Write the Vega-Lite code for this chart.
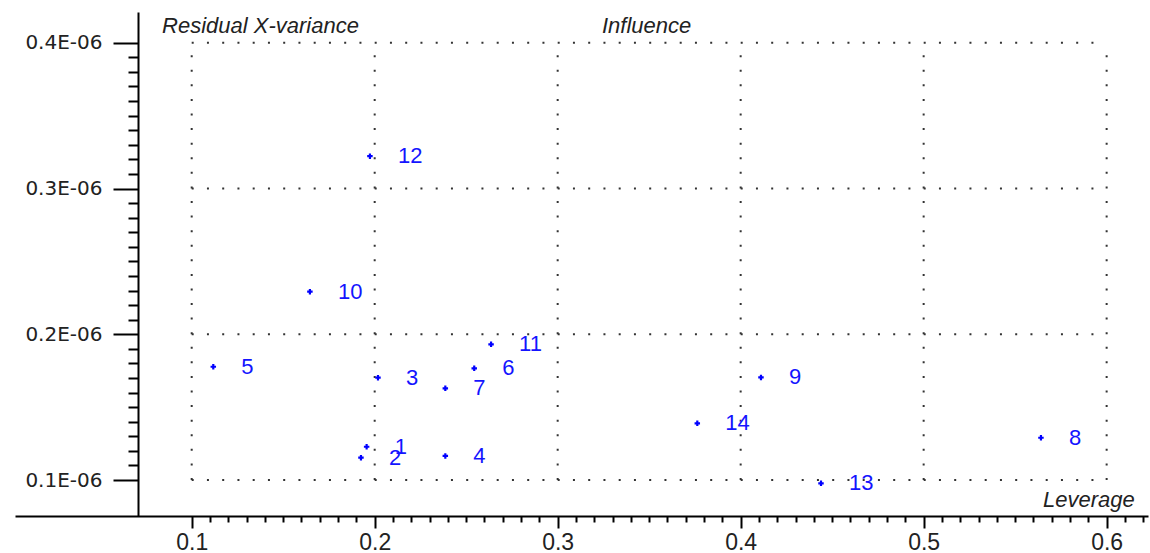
{
  "$schema": "https://vega.github.io/schema/vega-lite/v6.json",
  "width": 1133,
  "height": 504,
  "autosize": {"type": "none"},
  "padding": {"left": 15, "top": 12, "right": 2, "bottom": 37},
  "background": "#ffffff",
  "config": {"view": {"stroke": null}, "font": "Liberation Sans"},
  "datasets": {
    "samples": [
      {"sample": "1", "leverage": 0.1956, "residual": 1.228e-7},
      {"sample": "2", "leverage": 0.1925, "residual": 1.153e-7},
      {"sample": "3", "leverage": 0.2018, "residual": 1.702e-7},
      {"sample": "4", "leverage": 0.2386, "residual": 1.165e-7},
      {"sample": "5", "leverage": 0.1118, "residual": 1.777e-7},
      {"sample": "6", "leverage": 0.2544, "residual": 1.766e-7},
      {"sample": "7", "leverage": 0.2386, "residual": 1.629e-7},
      {"sample": "8", "leverage": 0.5641, "residual": 1.290e-7},
      {"sample": "9", "leverage": 0.4111, "residual": 1.704e-7},
      {"sample": "10", "leverage": 0.1646, "residual": 2.292e-7},
      {"sample": "11", "leverage": 0.2636, "residual": 1.931e-7},
      {"sample": "12", "leverage": 0.1974, "residual": 3.222e-7},
      {"sample": "13", "leverage": 0.4439, "residual": 0.977e-7},
      {"sample": "14", "leverage": 0.3763, "residual": 1.389e-7}
    ],
    "grid_v": [
      {"leverage": 0.1, "residual": 1e-7, "residual_end": 4e-7},
      {"leverage": 0.2, "residual": 1e-7, "residual_end": 4e-7},
      {"leverage": 0.3, "residual": 1e-7, "residual_end": 4e-7},
      {"leverage": 0.4, "residual": 1e-7, "residual_end": 4e-7},
      {"leverage": 0.5, "residual": 1e-7, "residual_end": 4e-7},
      {"leverage": 0.6, "residual": 1e-7, "residual_end": 4e-7}
    ],
    "grid_h": [
      {"residual": 1e-7, "leverage": 0.1, "leverage_end": 0.6},
      {"residual": 2e-7, "leverage": 0.1, "leverage_end": 0.6},
      {"residual": 3e-7, "leverage": 0.1, "leverage_end": 0.6},
      {"residual": 4e-7, "leverage": 0.1, "leverage_end": 0.6}
    ],
    "annotations": [
      {"label": "Residual X-variance", "leverage": 0.0838, "residual": 4.118e-7},
      {"label": "Influence", "leverage": 0.3242, "residual": 4.118e-7},
      {"label": "Leverage", "leverage": 0.5652, "residual": 0.866e-7}
    ]
  },
  "encoding": {
    "x": {
      "field": "leverage",
      "type": "quantitative",
      "scale": {"domain": [0.00344, 0.6226], "nice": false, "zero": false},
      "axis": {
        "title": null,
        "grid": false,
        "values": [0.1,0.11,0.12,0.13,0.14,0.15,0.16,0.17,0.18,0.19,0.2,0.21,0.22,0.23,0.24,0.25,0.26,0.27,0.28,0.29,0.3,0.31,0.32,0.33,0.34,0.35,0.36,0.37,0.38,0.39,0.4,0.41,0.42,0.43,0.44,0.45,0.46,0.47,0.48,0.49,0.5,0.51,0.52,0.53,0.54,0.55,0.56,0.57,0.58,0.59,0.6,0.61,0.62],
        "labelExpr": "abs(datum.value*10 - round(datum.value*10)) < 0.001 ? format(datum.value, '.1f') : ''",
        "tickSize": {"condition": {"test": "abs(datum.value*10 - round(datum.value*10)) < 0.001", "value": 12}, "value": 6},
        "tickColor": "#000000",
        "tickWidth": 2,
        "domainColor": "#000000",
        "domainWidth": 2,
        "labelFont": "Liberation Sans",
        "labelFontSize": 23,
        "labelColor": "#222222",
        "labelPadding": 3,
        "labelFlush": false,
        "labelOverlap": false
      }
    },
    "y": {
      "field": "residual",
      "type": "quantitative",
      "scale": {"domain": [0.753e-7, 4.211e-7], "nice": false, "zero": false},
      "axis": {
        "title": null,
        "grid": false,
        "offset": -123,
        "values": [1e-7,1.1e-7,1.2e-7,1.3e-7,1.4e-7,1.5e-7,1.6e-7,1.7e-7,1.8e-7,1.9e-7,2e-7,2.1e-7,2.2e-7,2.3e-7,2.4e-7,2.5e-7,2.6e-7,2.7e-7,2.8e-7,2.9e-7,3e-7,3.1e-7,3.2e-7,3.3e-7,3.4e-7,3.5e-7,3.6e-7,3.7e-7,3.8e-7,3.9e-7,4e-7],
        "labelExpr": "abs(datum.value*1e7 - round(datum.value*1e7)) < 0.001 ? format(datum.value*1e6, '.1f') + 'E-06' : ''",
        "tickSize": {"condition": {"test": "abs(datum.value*1e7 - round(datum.value*1e7)) < 0.001", "value": 25}, "value": 10},
        "tickColor": "#000000",
        "tickWidth": 2,
        "domainColor": "#000000",
        "domainWidth": 2,
        "labelFont": "DejaVu Sans",
        "labelFontSize": 20,
        "labelColor": "#222222",
        "labelPadding": 11,
        "labelFlush": false,
        "labelOverlap": false
      }
    }
  },
  "layer": [
    {
      "data": {"name": "grid_v"},
      "mark": {"type": "rule", "color": "#333333", "strokeWidth": 2, "strokeDash": [2, 12.58]},
      "encoding": {"y2": {"field": "residual_end"}}
    },
    {
      "data": {"name": "grid_h"},
      "mark": {"type": "rule", "color": "#333333", "strokeWidth": 2, "strokeDash": [2, 13.25]},
      "encoding": {"x2": {"field": "leverage_end"}}
    },
    {
      "data": {"name": "samples"},
      "mark": {"type": "point", "shape": "cross", "filled": true, "size": 30, "color": "#0000ff", "opacity": 1}
    },
    {
      "data": {"name": "samples"},
      "mark": {"type": "text", "align": "left", "baseline": "middle", "dx": 28, "fontSize": 22, "color": "#1414ff"},
      "encoding": {"text": {"field": "sample"}}
    },
    {
      "data": {"name": "annotations"},
      "mark": {"type": "text", "align": "left", "baseline": "middle", "fontSize": 22, "fontStyle": "italic", "color": "#222222"},
      "encoding": {"text": {"field": "label"}}
    }
  ]
}
